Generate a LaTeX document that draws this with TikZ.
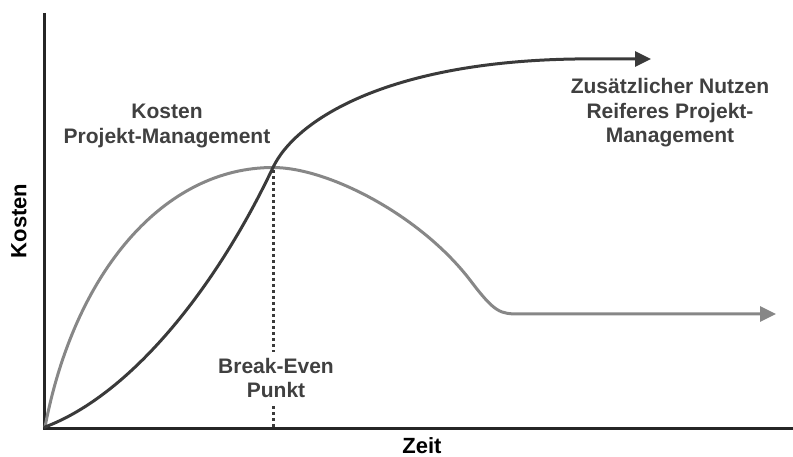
\documentclass[tikz,border=0pt]{standalone}
\usepackage{fontspec}
\setmainfont{Liberation Sans}
\usetikzlibrary{arrows.meta}
\definecolor{curvedark}{HTML}{3A3A3A}
\definecolor{curvegray}{HTML}{878787}
\definecolor{labelgray}{HTML}{404040}
\definecolor{axisblack}{HTML}{262626}
\begin{document}
\begin{tikzpicture}[x=1pt,y=-1pt,
  axis/.style={draw=axisblack,line width=3.6pt},
  curve/.style={line width=3pt,line cap=round,line join=round},
  tip/.style={-{Triangle[length=16pt,width=15pt]}},
  label/.style={font=\bfseries\fontsize{21}{24.5}\selectfont,text=labelgray,align=center,inner sep=0pt},
  axislabel/.style={font=\bfseries\fontsize{22}{26}\selectfont,text=black,inner sep=0pt},
  marker/.style={draw=curvedark,line width=3.2pt,dash pattern=on 3pt off 3pt}]
  \useasboundingbox (0,0) rectangle (793,457);

  % axes
  \coordinate (origin) at (44.5,428.5);
  \coordinate (ytop) at (44.5,13);
  \coordinate (xend) at (795,428.5);
  \draw[axis] (ytop) -- (origin) -- (xend);

  % key points of the two curves
  \coordinate (start) at (45,427);
  \coordinate (cross) at (273,167.5);
  \coordinate (bend) at (470,280);
  \coordinate (flat) at (520,314);
  \coordinate (grayend) at (776,314);
  \coordinate (level) at (575,59);
  \coordinate (darkend) at (651,59);

  % cost curve of project management (rises, peaks, levels off)
  \draw[curve,draw=curvegray,tip] (start)
    .. controls (75,270) and (165,167.5) .. (cross)
    .. controls (328,167.5) and (420,215) .. (bend)
    .. controls (495,313) and (500,314) .. (flat)
    -- (grayend);

  % benefit curve of a mature project management
  \draw[curve,draw=curvedark,tip] (start)
    .. controls (130,395) and (215,290) .. (cross)
    .. controls (295,121) and (385,62) .. (level)
    -- (darkend);

  % break-even marker
  \coordinate (be) at (273.5,170);
  \coordinate (beA) at (273.5,352);
  \coordinate (beB) at (273.5,406);
  \coordinate (beC) at (273.5,428);
  \draw[marker] (be) -- (beA);
  \draw[marker] (beB) -- (beC);

  % labels
  \node[label] (costlbl) at (167,126) {Kosten\\Projekt-Management};
  \node[label] (belbl) at (276,378) {Break-Even\\Punkt};
  \node[label] (benefitlbl) at (670,113) {Zusätzlicher Nutzen\\Reiferes Projekt-\\Management};
  \node[axislabel,anchor=base] (xlbl) at (422,453) {Zeit};
  \node[axislabel,rotate=90] (ylbl) at (19,221) {Kosten};
\end{tikzpicture}
\end{document}
